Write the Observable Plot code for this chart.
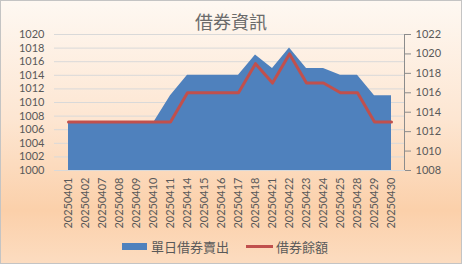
<!DOCTYPE html>
<html>
<head>
<meta charset="utf-8">
<script src="https://cdn.jsdelivr.net/npm/d3@7"></script>
<script src="https://cdn.jsdelivr.net/npm/@observablehq/plot@0.6"></script>
<style>
  html, body { margin: 0; padding: 0; }
  #wrap {
    position: relative; width: 462px; height: 264px; box-sizing: border-box;
    border: 1px solid #c4c4c4;
    background: linear-gradient(to bottom, #fef8f2 0%, #fde6d2 45%, #fbd0aa 80%, #fcdcc0 100%);
    font-family: Lato, "Noto Sans CJK TC", sans-serif; color: #595959; overflow: hidden;
  }
  #title { position: absolute; left: 0; width: 460px; top: 7px; text-align: center;
    font-size: 18px; font-family: "Noto Sans CJK TC", sans-serif; color: #6b6b6b; }
  #chart { position: absolute; left: -1px; top: -1px; width: 462px; height: 264px; }
  #chart svg { max-width: none !important; width: 462px; height: 264px; display: block; }
  #legend { position: absolute; top: 236px; left: 121px; display: flex; align-items: center;
    font-size: 13px; font-family: "Noto Sans CJK TC", sans-serif; color: #595959; }
  .sw1 { width: 25px; height: 7px; background: #4f81bd; margin-right: 4px; }
  .sw2 { width: 27px; height: 3px; background: #c0504d; margin-left: 17px; margin-right: 3px; }
</style>
</head>
<body>
<div id="wrap">
  <div id="title">借券資訊</div>
  <div id="chart"></div>
  <div id="legend"><span class="sw1"></span><span>單日借券賣出</span><span class="sw2"></span><span>借券餘額</span></div>
</div>
<script>
const dates = ["20250401","20250402","20250407","20250408","20250409","20250410","20250411","20250414","20250415","20250416","20250417","20250418","20250421","20250422","20250423","20250424","20250425","20250428","20250429","20250430"];
const dailySell = [1007,1007,1007,1007,1007,1007,1011,1014,1014,1014,1014,1017,1015,1018,1015,1015,1014,1014,1011,1011];
const balance = [1013,1013,1013,1013,1013,1013,1013,1016,1016,1016,1016,1019,1017,1020,1017,1017,1016,1016,1013,1013];
const leftTicks = [1000,1002,1004,1006,1008,1010,1012,1014,1016,1018,1020];
const rightTicks = [1008,1010,1012,1014,1016,1018,1020,1022];

const L0 = 1000, L1 = 1020, R0 = 1008, R1 = 1022;
const toLeft = v => L0 + (v - R0) * (L1 - L0) / (R1 - R0);
const toRight = v => R0 + (v - L0) * (R1 - R0) / (L1 - L0);

const data = dates.map((d, i) => ({date: d, sell: dailySell[i], bal: balance[i]}));

const plot = Plot.plot({
  width: 462, height: 264,
  marginTop: 34, marginBottom: 94, marginLeft: 54, marginRight: 58,
  style: {background: "transparent", fontFamily: "Lato, sans-serif", fontSize: "11px", color: "#595959"},
  x: {type: "point", domain: dates, padding: 0.5, label: null},
  y: {domain: [L0, L1], label: null},
  marks: [
    Plot.gridY(leftTicks, {stroke: "#d9d9d9", strokeOpacity: 1, strokeWidth: 1}),
    Plot.areaY(data, {x: "date", y1: L0, y2: "sell", fill: "#4f81bd", curve: "linear"}),
    Plot.lineY(data, {x: "date", y: d => toLeft(d.bal), stroke: "#c0504d", strokeWidth: 3, curve: "linear"}),
    Plot.axisY(leftTicks, {anchor: "left", label: null, tickSize: 0, tickPadding: 10, tickFormat: d => String(d), fill: "#595959"}),
    Plot.axisY(rightTicks.map(toLeft), {anchor: "right", label: null, tickSize: 6, tickPadding: 5, stroke: "#8c8c8c",
      tickFormat: d => String(Math.round(toRight(d))), fill: "#595959"}),
    Plot.frame({anchor: "right", stroke: "#8c8c8c"}),
    Plot.frame({anchor: "bottom", stroke: "#d9d9d9"}),
    Plot.axisX({anchor: "bottom", label: null, tickSize: 0, tickPadding: 7, tickRotate: -90, fill: "#595959"})
  ]
});
document.getElementById("chart").appendChild(plot);
</script>
</body>
</html>
